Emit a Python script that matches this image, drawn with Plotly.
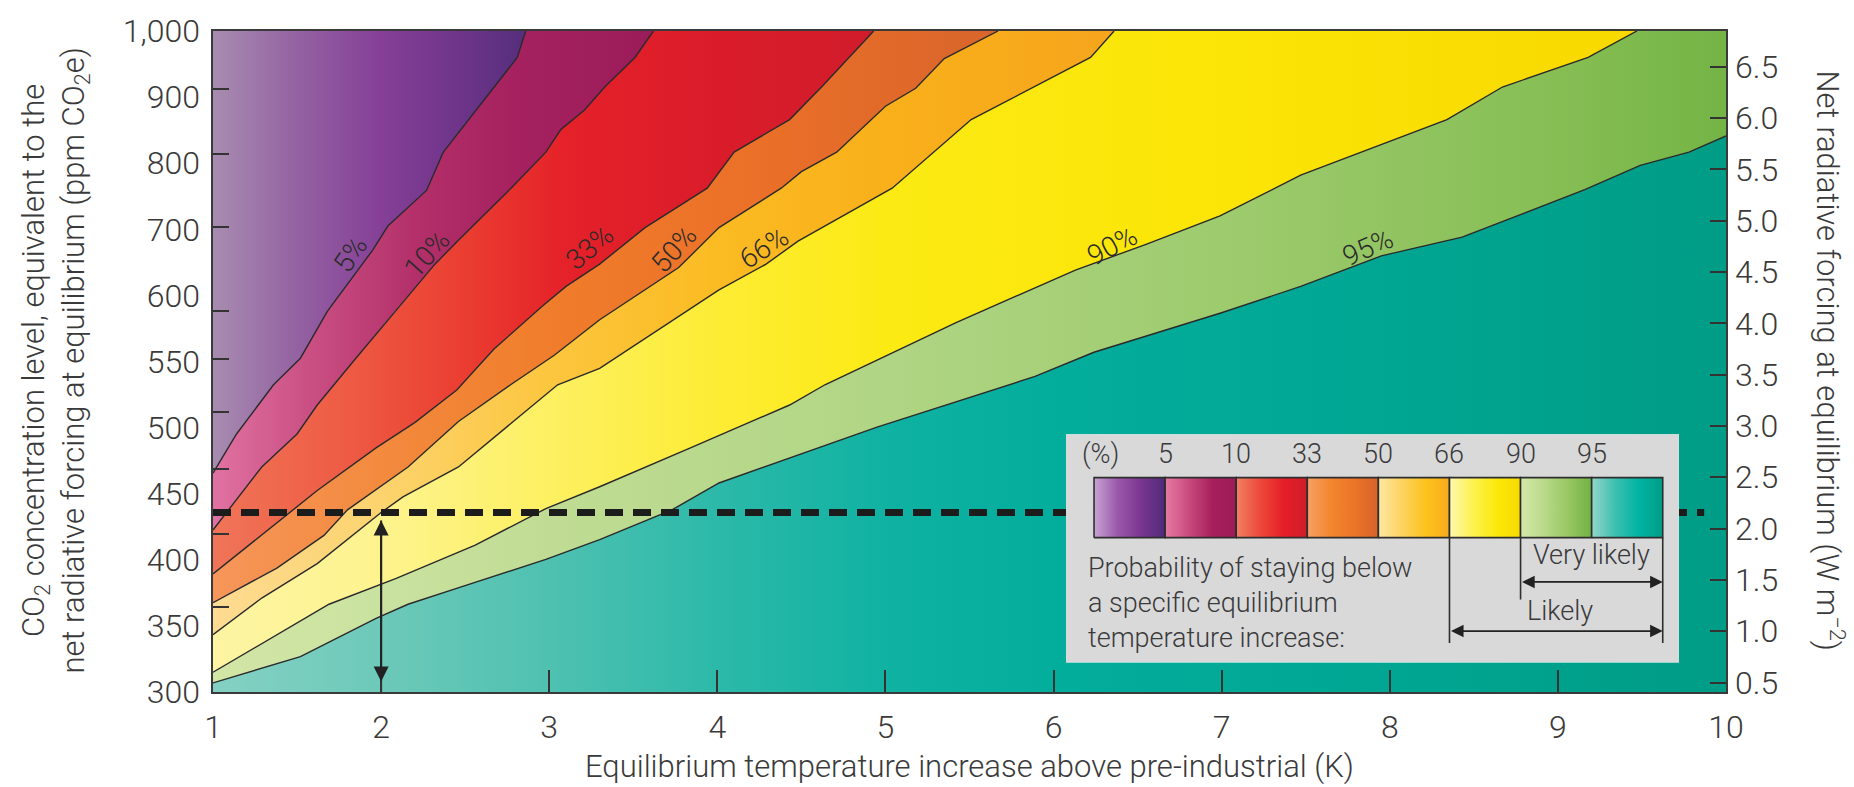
import math
import plotly.graph_objects as go

# ---------------------------------------------------------------------------
# Contour lines: probability (%) of staying below a given equilibrium warming.
# Each line runs from the left edge (1 K) to the top (1,000 ppm) or right edge.
# ---------------------------------------------------------------------------
LEVELS = [5, 10, 33, 50, 66, 90, 95]

T_05 = [1.0, 1.14, 1.36, 1.52, 1.68, 1.95, 2.04, 2.27, 2.37, 2.81, 2.86]
C_05 = [447, 480, 525, 551, 600, 671, 701, 748, 802, 953, 1000]

T_10 = [1.0, 1.29, 1.5, 1.62, 1.85, 2.09, 2.32, 2.46, 2.79, 2.98, 3.07, 3.21, 3.33, 3.51, 3.62]
C_10 = [403, 452, 480, 506, 551, 602, 654, 683, 755, 802, 836, 866, 903, 953, 1000]

T_33 = [1.0, 1.38, 1.62, 1.97, 2.2, 2.45, 2.67, 2.96, 3.10, 3.30, 3.57, 3.94, 4.10, 4.43, 4.62, 4.93]
C_33 = [372, 408, 433, 468, 490, 520, 560, 606, 628, 654, 699, 751, 802, 851, 903, 1000]

T_50 = [1.0, 1.38, 1.66, 1.80, 2.16, 2.46, 2.77, 3.03, 3.30, 3.77, 4.01, 4.38, 4.50, 4.71, 5.0, 5.18, 5.35, 5.67]
C_50 = [353, 376, 399, 418, 452, 491, 525, 554, 591, 650, 699, 751, 774, 802, 872, 901, 951, 1000]

T_66 = [1.0, 1.29, 1.62, 2.0, 2.13, 2.46, 3.05, 3.30, 4.01, 4.29, 4.48, 5.04, 5.51, 6.22, 6.36]
C_66 = [333, 356, 379, 416, 428, 452, 525, 541, 624, 654, 682, 751, 851, 953, 1000]

T_90 = [1.0, 1.69, 2.09, 2.56, 2.98, 3.30, 3.84, 4.43, 4.64, 5.42, 6.13, 6.55, 6.99, 7.47, 8.34, 8.67, 9.18, 9.47]
C_90 = [311, 352, 369, 392, 419, 436, 468, 506, 525, 588, 647, 678, 714, 769, 851, 903, 953, 1000]

T_95 = [1.0, 1.52, 1.97, 2.16, 2.44, 2.98, 3.30, 3.73, 4.01, 4.95, 5.89, 6.24, 6.99, 7.47, 7.95, 8.43, 9.16, 9.49, 9.78, 10.0]
C_95 = [305, 320, 343, 352, 362, 382, 396, 418, 439, 486, 533, 557, 598, 628, 664, 687, 749, 783, 802, 826]

# Where each contour carries its inline label (temperature K, CO2 ppm)
LABEL_T = [1.82, 2.27, 3.24, 3.74, 4.28, 6.35, 7.87]
LABEL_C = [665, 666, 674, 672, 674, 677, 674]

# Stabilisation level highlighted by the dashed line and the 2 K read-off arrow
DASHED_CO2 = 416
DASHED_T_END = 9.87
ARROW_T = 2.0
ARROW_TOP_CO2 = 410
ARROW_BOTTOM_CO2 = 305

# Axes
T_RANGE = [1, 10]
CO2_RANGE = [300, 1000]
X_TICKS = list(range(1, 11))
CO2_TICKS = [300, 350, 400, 450, 500, 550, 600, 700, 800, 900, 1000]
CO2_TICK_TEXT = ["300", "350", "400", "450", "500", "550", "600", "700", "800", "900", "1,000"]
FORCING_TICKS = [0.5, 1.0, 1.5, 2.0, 2.5, 3.0, 3.5, 4.0, 4.5, 5.0, 5.5, 6.0, 6.5]

# Legend key
KEY_LEVELS = ["5", "10", "33", "50", "66", "90", "95"]


def forcing(c):
    """Radiative forcing (W m-2) of a CO2-equivalent concentration (ppm)."""
    return 5.35 * math.log(c / 278.0)


# ---------------------------------------------------------------------------
# Styles
# ---------------------------------------------------------------------------
FONT = "Roboto, 'Open Sans', sans-serif"
INK = "#3a3a3a"
LINE_INK = "#2a2a2a"

# Horizontal colour ramps of the eight probability bands, (temperature, colour)
BAND_RAMPS = [
    [(1.0, "#a78cb0"), (1.5, "#9462a2"), (2.0, "#853f97"), (2.5, "#6c3489"), (2.86, "#552e7c")],
    [(1.0, "#e072a2"), (1.6, "#c94e82"), (2.2, "#b3306a"), (2.8, "#a5215f"), (3.62, "#9b1c5a")],
    [(1.0, "#f07558"), (1.8, "#ee5b44"), (2.5, "#ea3d31"), (3.1, "#e52129"), (4.0, "#da1c2a"), (4.93, "#d11c2b")],
    [(1.0, "#f6965a"), (2.0, "#f38a3e"), (3.0, "#f07d2b"), (4.2, "#eb7028"), (5.67, "#d9652b")],
    [(1.0, "#fddb92"), (2.0, "#fcd36e"), (3.0, "#fcc63e"), (4.0, "#fbbb22"), (5.0, "#f9b01a"), (6.36, "#f6a51c")],
    [(1.0, "#fdf4a4"), (2.0, "#fdf38e"), (3.0, "#fdf062"), (4.0, "#fdec34"), (5.0, "#fcea14"), (7.0, "#fbe506"), (9.5, "#f8d800")],
    [(1.0, "#d2e6a6"), (2.0, "#cae2a0"), (3.0, "#c0dc94"), (5.0, "#b0d584"), (7.0, "#9ecb6e"), (9.0, "#86be54"), (10.0, "#74b445")],
    [(1.0, "#84d1c3"), (2.0, "#6dc9b9"), (3.0, "#4fc1b1"), (4.0, "#2cb9a9"), (5.0, "#10b2a2"), (6.0, "#03ad9c"), (8.0, "#00a692"), (10.0, "#009c86")],
]

KEY_RAMPS = [
    ["#c9a3d3", "#9a58aa", "#7a3590", "#4f2b78"],
    ["#e87aa2", "#c94b7e", "#a81f5c", "#9b1c58"],
    ["#f28064", "#ec4a3a", "#e61e28", "#d01c2a"],
    ["#f7a066", "#f3862e", "#ec7428", "#d4622b"],
    ["#fee7a6", "#fdd360", "#fcc31c", "#f8aa1c"],
    ["#fef9b0", "#fdf250", "#fbe90a", "#f9d900"],
    ["#d6e9aa", "#b8d98a", "#98c862", "#72b143"],
    ["#95d5c9", "#3cc0b0", "#00b3a2", "#009e86"],
]

LABEL_ANGLES = [-56, -48, -40, -48, -33, -28, -24]

# ---------------------------------------------------------------------------
# Build the figure
# ---------------------------------------------------------------------------
lines = [(T_05, C_05), (T_10, C_10), (T_33, C_33), (T_50, C_50),
         (T_66, C_66), (T_90, C_90), (T_95, C_95)]


def band_polygon(k):
    """Closed outline of band k, bounded by contour k-1 above and contour k below."""
    if k == 0:
        t, c = lines[0]
        return list(t) + [T_RANGE[0]], list(c) + [CO2_RANGE[1]]
    if k == len(lines):
        t, c = lines[-1]
        return list(t) + [T_RANGE[1], T_RANGE[0]], list(c) + [CO2_RANGE[0], CO2_RANGE[0]]
    ta, ca = lines[k - 1]
    tb, cb = lines[k]
    xs, ys = list(ta), list(ca)
    if tb[-1] >= T_RANGE[1] and cb[-1] < CO2_RANGE[1]:
        xs.append(T_RANGE[1])
        ys.append(CO2_RANGE[1])
    xs += list(tb[::-1])
    ys += list(cb[::-1])
    return xs, ys


def ramp_scale(ramp):
    t0, t1 = ramp[0][0], ramp[-1][0]
    return [[(t - t0) / (t1 - t0), col] for t, col in ramp], t0, t1


fig = go.Figure()

# Probability bands with horizontal colour gradients
for k, ramp in enumerate(BAND_RAMPS):
    xs, ys = band_polygon(k)
    scale, t0, t1 = ramp_scale(ramp)
    fig.add_trace(go.Scatter(
        x=xs, y=ys, mode="lines", fill="toself",
        line=dict(width=0),
        fillgradient=dict(type="horizontal", colorscale=scale, start=t0, stop=t1),
        hoverinfo="skip", showlegend=False,
    ))

# Contour lines
for t, c in lines:
    fig.add_trace(go.Scatter(
        x=t, y=c, mode="lines",
        line=dict(color=LINE_INK, width=1.4),
        hoverinfo="skip", showlegend=False,
    ))

# Dashed stabilisation level
fig.add_trace(go.Scatter(
    x=[T_RANGE[0], DASHED_T_END], y=[DASHED_CO2, DASHED_CO2], mode="lines",
    line=dict(color="#1c1c1c", width=7, dash="18px,10px"),
    hoverinfo="skip", showlegend=False,
))

# Stem of the read-off arrow down to the axis
fig.add_trace(go.Scatter(
    x=[ARROW_T, ARROW_T], y=[ARROW_TOP_CO2, CO2_RANGE[0]], mode="lines",
    line=dict(color="#222222", width=2),
    hoverinfo="skip", showlegend=False,
))

# Carrier traces so the overlaid label / forcing axes are rendered
fig.add_trace(go.Scatter(
    x=T_RANGE, y=[0, len(CO2_TICKS) - 1], yaxis="y3", mode="lines",
    line=dict(width=0), hoverinfo="skip", showlegend=False,
))
fig.add_trace(go.Scatter(
    x=T_RANGE, y=[forcing(CO2_RANGE[0]), forcing(CO2_RANGE[1])], yaxis="y2", mode="lines",
    line=dict(width=0), hoverinfo="skip", showlegend=False,
))

annotations = []

# Double-headed read-off arrow (log axis -> log10 positions)
annotations.append(dict(
    x=ARROW_T, y=math.log10(ARROW_TOP_CO2), ax=ARROW_T, ay=math.log10(ARROW_BOTTOM_CO2),
    xref="x", yref="y", axref="x", ayref="y", text="", showarrow=True,
    arrowhead=2, arrowside="end+start", arrowsize=1.5, arrowwidth=2, arrowcolor="#222222",
))

# Inline contour labels
for lvl, t, c, ang in zip(LEVELS, LABEL_T, LABEL_C, LABEL_ANGLES):
    annotations.append(dict(
        x=t, y=math.log10(c), xref="x", yref="y", text=f"{lvl}%", showarrow=False,
        textangle=ang, font=dict(size=28, color="#2b2b2b", family=FONT, weight=300),
    ))

# ---------------------------------------------------------------------------
# Key (own invisible axes: x in swatch units, y 0..1 over the grey panel)
# ---------------------------------------------------------------------------
KEY_X_RANGE = [-0.394, 8.228]
SW_Y0, SW_Y1 = 0.547, 0.81

fig.add_trace(go.Scatter(
    x=[KEY_X_RANGE[0], KEY_X_RANGE[1], KEY_X_RANGE[1], KEY_X_RANGE[0]], y=[0, 0, 1, 1],
    mode="lines", fill="toself", fillcolor="#d9d9da", line=dict(width=0),
    xaxis="x3", yaxis="y4", hoverinfo="skip", showlegend=False,
))

for i, ramp in enumerate(KEY_RAMPS):
    n = len(ramp) - 1
    fig.add_trace(go.Scatter(
        x=[i, i + 1, i + 1, i, i], y=[SW_Y0, SW_Y0, SW_Y1, SW_Y1, SW_Y0],
        mode="lines", fill="toself", line=dict(color="#2e2e2e", width=1.6),
        fillgradient=dict(type="horizontal", start=i, stop=i + 1,
                          colorscale=[[j / n, col] for j, col in enumerate(ramp)]),
        xaxis="x3", yaxis="y4", hoverinfo="skip", showlegend=False,
    ))

# Brackets under the swatches for the "likely" ranges
for xv, ylow in [(5, 0.086), (6, 0.276), (8, 0.086)]:
    fig.add_trace(go.Scatter(
        x=[xv, xv], y=[SW_Y0, ylow], mode="lines", line=dict(color="#2e2e2e", width=1.6),
        xaxis="x3", yaxis="y4", hoverinfo="skip", showlegend=False,
    ))

KEY_FONT = dict(size=27, color=INK, family=FONT, weight=300)
annotations.append(dict(x=-0.2, y=0.914, xref="x3", yref="y4", text="(%)",
                        showarrow=False, xanchor="left", font=KEY_FONT))
for i, lab in enumerate(KEY_LEVELS):
    annotations.append(dict(x=i + 1, y=0.914, xref="x3", yref="y4", text=lab,
                            showarrow=False, font=KEY_FONT))
annotations.append(dict(
    x=-0.118, y=0.259, xref="x3", yref="y4", xanchor="left", yanchor="middle", align="left",
    text="Probability of staying below<br>a specific equilibrium<br>temperature increase:",
    showarrow=False, font=KEY_FONT))
annotations.append(dict(x=7.0, y=0.47, xref="x3", yref="y4", text="Very likely",
                        showarrow=False, font=KEY_FONT))
annotations.append(dict(x=6.55, y=0.224, xref="x3", yref="y4", text="Likely",
                        showarrow=False, font=KEY_FONT))
for x_from, yv in [(6, 0.353), (5, 0.138)]:
    annotations.append(dict(
        x=8, y=yv, ax=x_from, ay=yv, xref="x3", yref="y4", axref="x3", ayref="y4",
        text="", showarrow=True, arrowhead=2, arrowside="end+start",
        arrowsize=1.4, arrowwidth=1.8, arrowcolor="#222222"))

# Axis titles
TITLE_FONT = dict(size=31, color=INK, family=FONT, weight=300)
annotations.append(dict(
    x=0.5, y=-0.113, xref="paper", yref="paper", showarrow=False,
    xanchor="center", yanchor="middle",
    text="Equilibrium temperature increase above pre-industrial (K)", font=TITLE_FONT))
annotations.append(dict(
    x=-0.1044, y=0.5015, xref="paper", yref="paper", showarrow=False, textangle=-90,
    xanchor="center", yanchor="middle",
    text="CO<sub>2</sub> concentration level, equivalent to the<br>"
         "net radiative forcing at equilibrium (ppm CO<sub>2</sub>e)",
    font=TITLE_FONT))
annotations.append(dict(
    x=1.0687, y=0.5015, xref="paper", yref="paper", showarrow=False, textangle=90,
    xanchor="center", yanchor="middle",
    text="Net radiative forcing at equilibrium (W m<sup>\u22122</sup>)", font=TITLE_FONT))

TICK_FONT = dict(size=32, color=INK, family=FONT, weight=300)
FRAME = "#3a3a3a"

fig.update_layout(
    width=1854, height=787,
    margin=dict(l=213, r=128, t=20, b=95),
    paper_bgcolor="white", plot_bgcolor="white",
    font=dict(family=FONT, color=INK, weight=300),
    showlegend=False,
    annotations=annotations,
    xaxis=dict(
        range=T_RANGE, tickvals=X_TICKS, ticks="inside", ticklen=22, tickwidth=2,
        tickcolor="#333333", showline=True, linecolor=FRAME, linewidth=2, mirror=True,
        showgrid=False, zeroline=False, tickfont=TICK_FONT, ticklabelstandoff=6,
    ),
    yaxis=dict(
        type="log", range=[math.log10(CO2_RANGE[0]), math.log10(CO2_RANGE[1])],
        tickvals=CO2_TICKS, showticklabels=False, ticks="inside", ticklen=16, tickwidth=2,
        tickcolor="#333333", showline=True, linecolor=FRAME, linewidth=2, mirror=True,
        showgrid=False, zeroline=False,
    ),
    # evenly spaced concentration labels on the left
    yaxis3=dict(
        overlaying="y", side="left", anchor="x", range=[0, len(CO2_TICKS) - 1],
        tickvals=list(range(len(CO2_TICKS))), ticktext=CO2_TICK_TEXT, ticks="",
        showline=False, showgrid=False, zeroline=False, tickfont=TICK_FONT,
        ticklabelstandoff=12,
    ),
    # forcing scale on the right
    yaxis2=dict(
        overlaying="y", side="right", anchor="x",
        range=[forcing(CO2_RANGE[0]), forcing(CO2_RANGE[1])],
        tickvals=FORCING_TICKS, ticktext=[f"{v:.1f}" for v in FORCING_TICKS],
        ticks="inside", ticklen=16, tickwidth=2, tickcolor="#333333",
        showline=False, showgrid=False, zeroline=False, tickfont=TICK_FONT,
        ticklabelstandoff=8,
    ),
    xaxis3=dict(domain=[0.5638, 0.9689], anchor="y4", range=KEY_X_RANGE, visible=False),
    yaxis4=dict(domain=[0.0446, 0.3899], anchor="x3", range=[0, 1], visible=False),
)

fig.write_html("out.html")
